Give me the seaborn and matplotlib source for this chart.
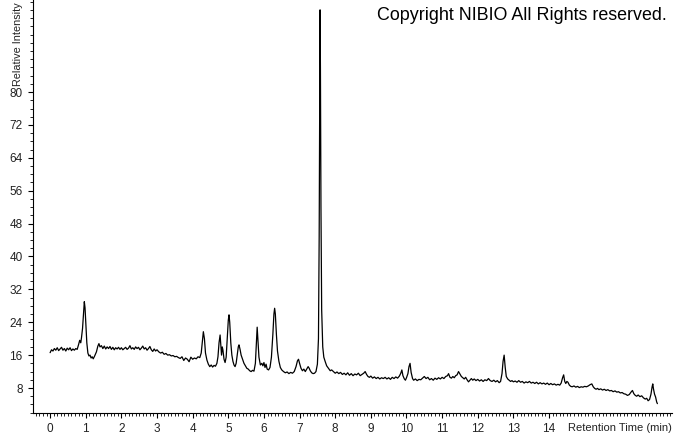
import matplotlib
matplotlib.use("Agg")
import matplotlib.pyplot as plt
from matplotlib.ticker import MultipleLocator, FixedLocator
import seaborn as sns
import pandas as pd

# ---------------- data ----------------
rt_a = [0.00, 0.04, 0.08, 0.12, 0.16, 0.20, 0.24, 0.28, 0.32, 0.36, 0.40, 0.44, 0.48, 0.52, 0.56, 0.60, 0.64, 0.68, 0.72, 0.76]
in_a = [16.6, 17.3, 17.0, 17.6, 17.2, 17.8, 17.1, 17.5, 17.9, 17.2, 17.6, 17.0, 17.7, 17.3, 17.8, 17.1, 17.5, 17.2, 17.6, 17.4]

rt_b = [0.80, 0.83, 0.86, 0.88, 0.91, 0.94, 0.96, 0.98, 1.00, 1.03, 1.06, 1.09, 1.12, 1.15, 1.18, 1.21, 1.25, 1.30, 1.34, 1.37]
in_b = [18.6, 19.6, 19.0, 20.2, 22.5, 26.5, 29.0, 27.5, 24.0, 19.0, 16.5, 15.8, 16.0, 15.3, 15.6, 15.1, 15.8, 16.8, 18.2, 18.8]

rt_c = [1.40, 1.44, 1.48, 1.52, 1.56, 1.60, 1.64, 1.68, 1.72, 1.76, 1.80, 1.84, 1.88, 1.92, 1.96, 2.00, 2.04, 2.08, 2.12, 2.16]
in_c = [18.0, 18.3, 17.6, 18.2, 17.5, 18.0, 17.6, 18.1, 17.4, 17.9, 17.3, 17.8, 17.5, 17.9, 17.4, 17.8, 17.3, 17.6, 17.9, 17.4]

rt_d = [2.20, 2.24, 2.28, 2.32, 2.36, 2.40, 2.44, 2.48, 2.52, 2.56, 2.60, 2.64, 2.68, 2.72, 2.76, 2.80, 2.84, 2.88, 2.92, 2.96]
in_d = [17.7, 18.3, 17.5, 17.8, 17.4, 18.0, 17.6, 17.9, 17.3, 17.7, 18.2, 17.5, 17.8, 17.2, 17.6, 18.1, 17.3, 16.9, 17.5, 17.0]

rt_e = [3.00, 3.05, 3.10, 3.15, 3.20, 3.25, 3.30, 3.35, 3.40, 3.45, 3.50, 3.55, 3.60, 3.65, 3.70, 3.75, 3.80, 3.85, 3.90, 3.95]
in_e = [17.3, 16.8, 16.5, 16.7, 16.2, 16.4, 16.0, 16.1, 15.8, 15.9, 15.6, 15.7, 15.4, 15.2, 15.6, 14.7, 15.3, 15.0, 14.4, 15.5]

rt_f = [4.00, 4.05, 4.10, 4.15, 4.20, 4.24, 4.27, 4.30, 4.33, 4.36, 4.40, 4.44, 4.48, 4.52, 4.56, 4.60, 4.64, 4.68, 4.71, 4.74]
in_f = [15.0, 15.3, 15.1, 15.6, 15.4, 16.5, 19.0, 21.7, 20.0, 16.5, 14.8, 13.8, 13.2, 13.6, 13.1, 13.5, 13.3, 14.0, 15.6, 19.0]

rt_g = [4.77, 4.79, 4.81, 4.83, 4.85, 4.88, 4.91, 4.94, 4.97, 5.00, 5.02, 5.04, 5.07, 5.10, 5.13, 5.16, 5.19, 5.22, 5.25, 5.28]
in_g = [20.9, 18.5, 16.0, 18.0, 17.2, 15.0, 14.2, 15.5, 20.0, 24.5, 25.8, 24.0, 19.0, 16.0, 14.5, 13.6, 13.2, 14.0, 16.0, 18.0]

rt_h = [5.30, 5.33, 5.36, 5.40, 5.44, 5.48, 5.52, 5.56, 5.60, 5.64, 5.68, 5.72, 5.76, 5.79, 5.81, 5.83, 5.86, 5.90, 5.94, 5.97]
in_h = [18.5, 17.4, 16.0, 15.0, 14.0, 13.4, 12.8, 12.6, 12.2, 12.0, 12.3, 12.1, 14.0, 19.5, 22.8, 20.0, 15.5, 13.6, 14.0, 13.4]

rt_i = [6.00, 6.03, 6.06, 6.09, 6.13, 6.17, 6.21, 6.25, 6.28, 6.30, 6.32, 6.35, 6.38, 6.42, 6.46, 6.50, 6.55, 6.60, 6.65, 6.70]
in_i = [14.2, 13.0, 13.8, 12.6, 12.4, 13.0, 15.5, 21.0, 26.0, 27.4, 26.0, 21.0, 17.0, 14.5, 13.0, 12.4, 12.0, 11.7, 11.9, 11.5]

rt_j = [6.75, 6.80, 6.85, 6.90, 6.94, 6.97, 7.00, 7.04, 7.08, 7.12, 7.16, 7.20, 7.24, 7.27, 7.30, 7.34, 7.38, 7.42, 7.46, 7.50]
in_j = [11.8, 11.6, 12.0, 13.2, 14.6, 15.0, 14.0, 12.8, 12.2, 12.6, 12.0, 12.6, 13.2, 12.8, 12.2, 11.7, 11.5, 11.6, 12.0, 13.8]

rt_k = [7.53, 7.55, 7.565, 7.575, 7.585, 7.60, 7.62, 7.65, 7.68, 7.72, 7.76, 7.81, 7.86, 7.90, 7.95, 8.00, 8.05, 8.10, 8.15, 8.20]
in_k = [20.0, 45.0, 80.0, 100.0, 86.0, 52.0, 27.0, 18.0, 15.5, 14.4, 13.4, 12.8, 12.2, 12.4, 12.0, 11.6, 11.9, 11.5, 11.8, 11.3]

rt_l = [8.25, 8.30, 8.35, 8.40, 8.45, 8.50, 8.55, 8.60, 8.65, 8.70, 8.75, 8.80, 8.84, 8.88, 8.92, 8.96, 9.00, 9.05, 9.10, 9.15]
in_l = [11.6, 11.2, 11.7, 11.1, 11.5, 11.0, 11.4, 11.2, 11.6, 11.0, 11.3, 11.6, 12.0, 11.3, 10.8, 10.6, 10.9, 10.4, 10.7, 10.3]

rt_m = [9.20, 9.25, 9.30, 9.35, 9.40, 9.45, 9.50, 9.55, 9.60, 9.65, 9.70, 9.75, 9.80, 9.84, 9.87, 9.90, 9.94, 9.97, 10.00, 10.04]
in_m = [10.6, 10.2, 10.5, 10.3, 10.6, 10.2, 10.5, 10.1, 10.6, 10.3, 10.7, 10.4, 10.9, 11.6, 12.4, 11.0, 10.2, 9.9, 10.5, 11.5]

rt_n = [10.07, 10.10, 10.13, 10.17, 10.20, 10.25, 10.30, 10.35, 10.40, 10.45, 10.50, 10.55, 10.60, 10.65, 10.70, 10.75, 10.80, 10.85, 10.90, 10.95]
in_n = [13.2, 14.0, 11.8, 10.3, 9.9, 10.2, 9.8, 10.1, 10.0, 10.4, 10.8, 10.3, 10.6, 10.0, 10.3, 9.9, 10.4, 10.1, 10.5, 10.2]

rt_o = [11.00, 11.05, 11.10, 11.15, 11.18, 11.22, 11.26, 11.30, 11.34, 11.38, 11.42, 11.46, 11.50, 11.54, 11.58, 11.62, 11.66, 11.70, 11.74, 11.78]
in_o = [10.6, 10.3, 10.8, 11.0, 11.5, 10.6, 10.4, 10.8, 10.5, 11.0, 11.2, 12.0, 11.4, 10.8, 10.5, 10.2, 10.6, 10.0, 9.5, 9.9]

rt_p = [11.82, 11.86, 11.90, 11.95, 12.00, 12.05, 12.10, 12.15, 12.20, 12.25, 12.30, 12.35, 12.40, 12.45, 12.50, 12.55, 12.60, 12.64, 12.68, 12.71]
in_p = [10.3, 9.9, 10.2, 9.8, 10.1, 9.7, 10.0, 9.6, 10.0, 9.8, 10.3, 9.8, 9.6, 9.9, 9.5, 9.8, 9.3, 9.6, 11.5, 14.5]

rt_q = [12.74, 12.77, 12.80, 12.84, 12.88, 12.92, 12.96, 13.00, 13.05, 13.10, 13.15, 13.20, 13.25, 13.30, 13.35, 13.40, 13.45, 13.50, 13.55, 13.60]
in_q = [16.0, 13.0, 10.8, 10.2, 9.9, 9.6, 9.8, 9.5, 9.7, 9.4, 9.8, 9.4, 9.6, 9.2, 9.5, 9.3, 9.6, 9.2, 9.4, 9.1]

rt_r = [13.65, 13.70, 13.75, 13.80, 13.85, 13.90, 13.95, 14.00, 14.05, 14.10, 14.15, 14.20, 14.25, 14.30, 14.34, 14.38, 14.41, 14.44, 14.47, 14.50]
in_r = [9.4, 9.0, 9.3, 9.0, 9.2, 8.9, 9.2, 8.8, 9.1, 8.8, 9.0, 8.7, 8.9, 8.7, 9.2, 10.5, 11.2, 9.6, 9.1, 9.6]

rt_s = [14.53, 14.57, 14.61, 14.65, 14.70, 14.75, 14.80, 14.85, 14.90, 14.95, 15.00, 15.05, 15.10, 15.15, 15.20, 15.24, 15.28, 15.32, 15.36, 15.40]
in_s = [9.4, 8.7, 8.4, 8.3, 8.5, 8.2, 8.4, 8.1, 8.3, 8.2, 8.4, 8.3, 8.5, 8.8, 9.0, 8.3, 7.9, 7.7, 7.9, 7.6]

rt_t = [15.45, 15.50, 15.55, 15.60, 15.65, 15.70, 15.75, 15.80, 15.85, 15.90, 15.95, 16.00, 16.05, 16.10, 16.15, 16.20, 16.25, 16.30, 16.34, 16.38]
in_t = [7.8, 7.5, 7.7, 7.4, 7.6, 7.3, 7.4, 7.1, 7.3, 7.0, 7.1, 6.8, 6.9, 6.6, 6.5, 6.2, 6.4, 7.0, 7.4, 6.6]

rt_u = [16.42, 16.46, 16.50, 16.55, 16.60, 16.65, 16.70, 16.74, 16.78, 16.82, 16.86, 16.89, 16.91, 16.93, 16.96, 16.99, 17.02, 17.04]
in_u = [6.2, 6.0, 6.3, 5.9, 6.1, 5.6, 5.3, 5.5, 4.9, 5.2, 6.5, 8.2, 9.0, 7.8, 6.5, 5.8, 4.6, 4.2]

y_ticks = [8, 16, 24, 32, 40, 48, 56, 64, 72, 80]
x_ticks = list(range(0, 15))
title_text = "Copyright NIBIO All Rights reserved."
x_label = "Retention Time (min)"
y_label = "Relative Intensity"

# ---------------- assemble ----------------
rt_parts = [rt_a, rt_b, rt_c, rt_d, rt_e, rt_f, rt_g, rt_h, rt_i, rt_j, rt_k,
            rt_l, rt_m, rt_n, rt_o, rt_p, rt_q, rt_r, rt_s, rt_t, rt_u]
in_parts = [in_a, in_b, in_c, in_d, in_e, in_f, in_g, in_h, in_i, in_j, in_k,
            in_l, in_m, in_n, in_o, in_p, in_q, in_r, in_s, in_t, in_u]
rt, inten = [], []
for r_, v_ in zip(rt_parts, in_parts):
    assert len(r_) == len(v_), (r_[0], len(r_), len(v_))
    rt += r_
    inten += v_
df = pd.DataFrame({"rt": rt, "intensity": inten})

# ---------------- plot ----------------
sns.set_style("ticks")
plt.rcParams["font.family"] = ["Liberation Sans", "DejaVu Sans"]

W, H = 674, 434
fig = plt.figure(figsize=(W / 100, H / 100), dpi=100)
ax = fig.add_axes([33 / W, (H - 413) / H, (672 - 33) / W, 413 / H])

sns.lineplot(data=df, x="rt", y="intensity", ax=ax, color="black",
             linewidth=0.9, estimator=None, sort=False)

ax.set_xlim(-0.48, 17.45)
ax.set_ylim(1.92, 102.4)
ax.xaxis.set_major_locator(FixedLocator(x_ticks))
ax.xaxis.set_minor_locator(MultipleLocator(0.1))
ax.yaxis.set_major_locator(FixedLocator(y_ticks))
ax.yaxis.set_minor_locator(MultipleLocator(2))
ax.set_xticklabels([str(t) for t in x_ticks])
ax.set_yticklabels([str(t) for t in y_ticks])
ax.set_xlabel("")
ax.set_ylabel("")

for s in ["top", "right"]:
    ax.spines[s].set_visible(False)
for s in ["left", "bottom"]:
    ax.spines[s].set_color("black")
    ax.spines[s].set_linewidth(0.8)

ax.tick_params(which="major", length=3.5, width=0.8, color="black",
               labelsize=8.5, labelcolor="#222222", pad=4)
ax.tick_params(which="minor", length=2, width=0.6, color="black")

fig.text(667 / W, 1 - 15.5 / H, title_text, ha="right", va="center",
         fontsize=12.9, color="black")
fig.text(672 / W, 1 - 428 / H, x_label, ha="right", va="center",
         fontsize=8, color="#222222")
fig.text(18 / W, 1 - 2 / H, y_label, ha="center", va="top",
         rotation=90, fontsize=7.8, color="#222222")

fig.savefig("out.png", dpi=100)
